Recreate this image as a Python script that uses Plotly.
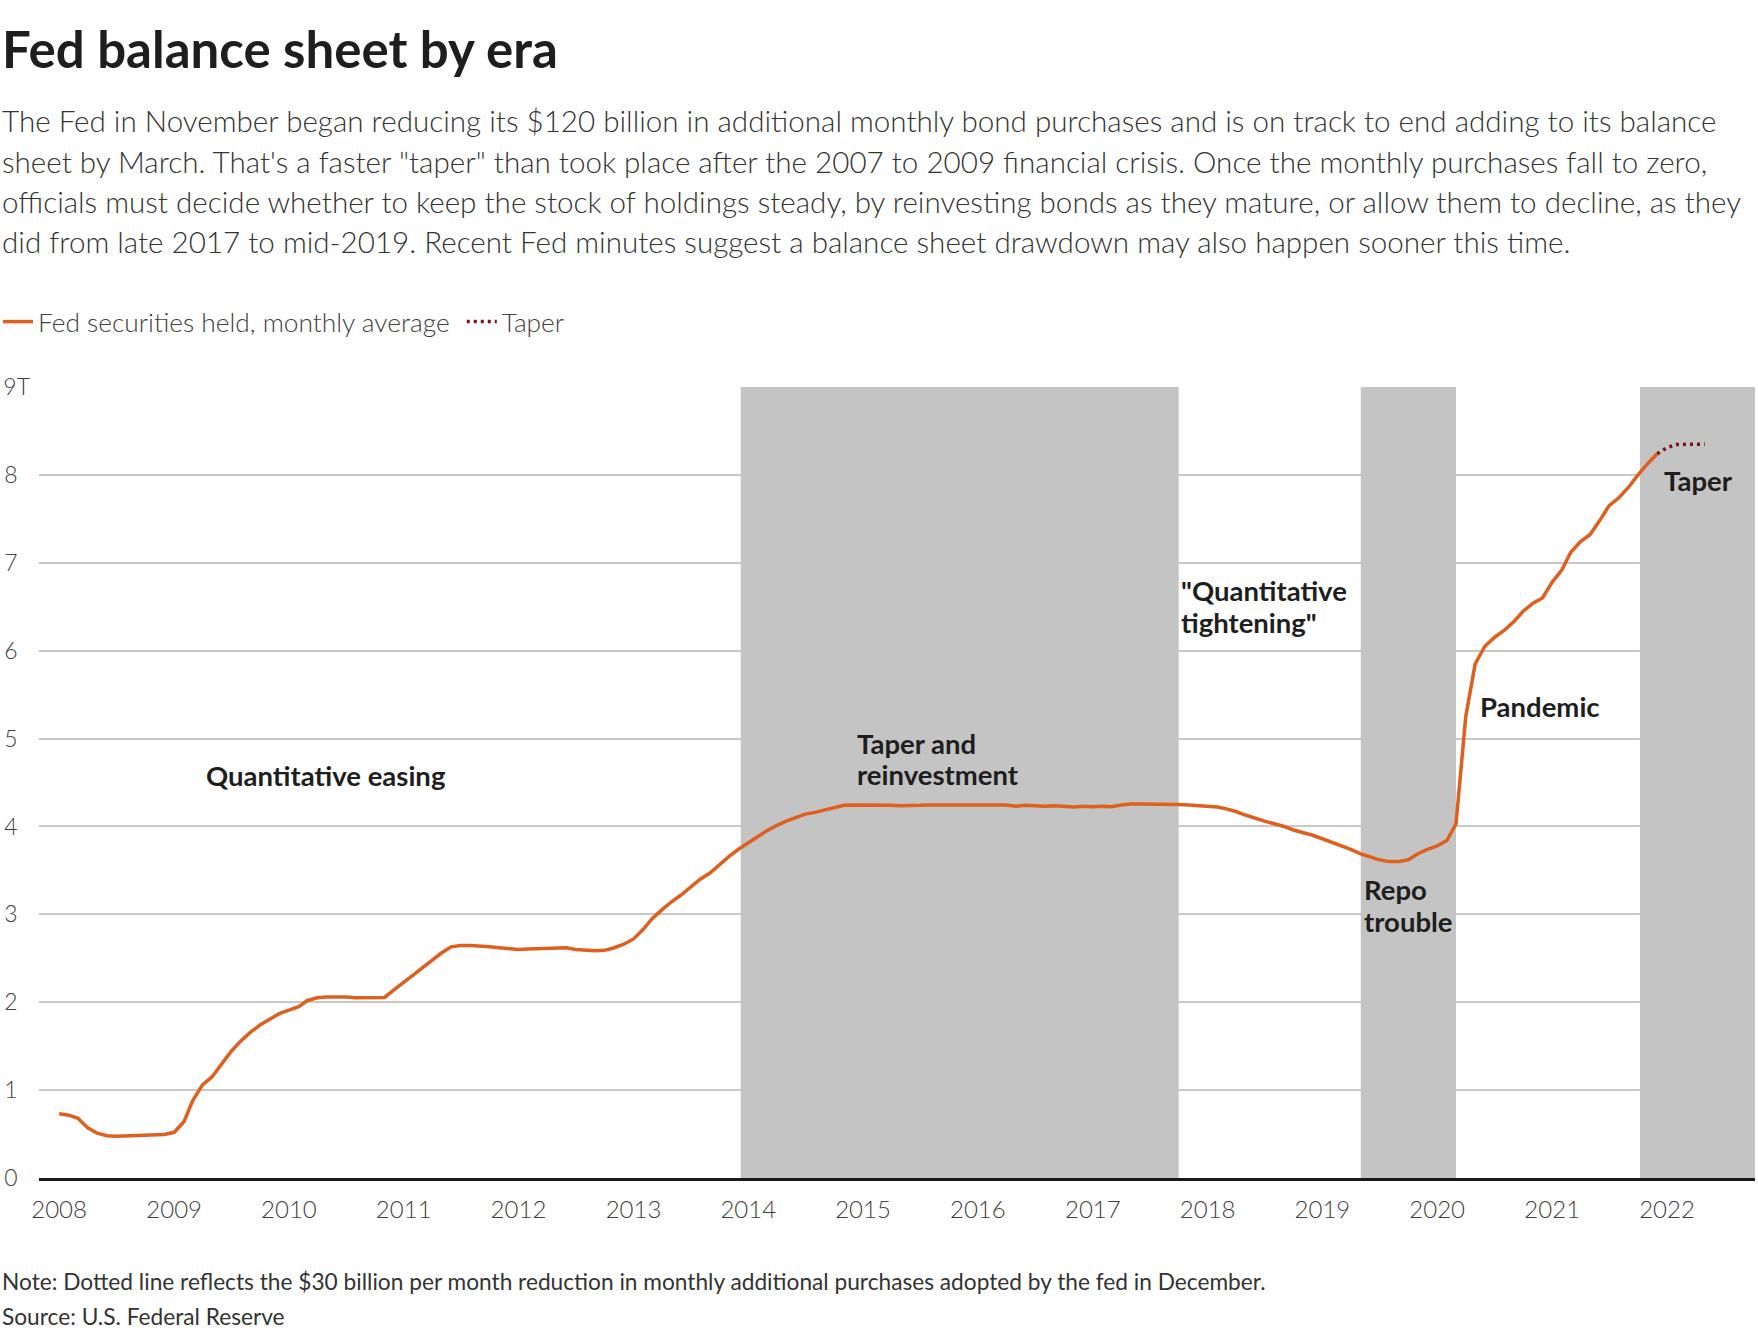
import plotly.graph_objects as go
import pandas as pd

# ---------------- data ----------------
start_month = "2008-01-01"
held_2008 = [0.73, 0.715, 0.68, 0.57, 0.51, 0.48, 0.475, 0.478, 0.48, 0.485, 0.49, 0.495]
held_2009 = [0.52, 0.64, 0.88, 1.06, 1.15, 1.30, 1.44, 1.56, 1.66, 1.74, 1.81, 1.87]
held_2010 = [1.91, 1.95, 2.02, 2.05, 2.06, 2.065, 2.06, 2.05, 2.05, 2.05, 2.055, 2.14]
held_2011 = [2.22, 2.31, 2.39, 2.48, 2.56, 2.63, 2.645, 2.645, 2.64, 2.63, 2.62, 2.615]
held_2012 = [2.60, 2.605, 2.61, 2.61, 2.615, 2.62, 2.60, 2.59, 2.585, 2.59, 2.62, 2.66]
held_2013 = [2.72, 2.83, 2.95, 3.05, 3.14, 3.22, 3.31, 3.40, 3.47, 3.57, 3.66, 3.74]
held_2014 = [3.81, 3.89, 3.95, 4.01, 4.06, 4.10, 4.14, 4.16, 4.19, 4.22, 4.24, 4.245]
held_2015 = [4.245, 4.245, 4.245, 4.24, 4.235, 4.235, 4.24, 4.245, 4.245, 4.25, 4.25, 4.245]
held_2016 = [4.245, 4.25, 4.25, 4.245, 4.23, 4.24, 4.235, 4.23, 4.235, 4.23, 4.22, 4.23]
held_2017 = [4.225, 4.23, 4.225, 4.245, 4.255, 4.255, 4.255, 4.255, 4.255, 4.25, 4.245, 4.24]
held_2018 = [4.235, 4.22, 4.20, 4.17, 4.13, 4.09, 4.06, 4.03, 4.00, 3.96, 3.93, 3.90]
held_2019 = [3.86, 3.82, 3.78, 3.74, 3.69, 3.65, 3.62, 3.60, 3.60, 3.62, 3.69, 3.74]
held_2020 = [3.78, 3.84, 4.03, 5.25, 5.85, 6.05, 6.15, 6.23, 6.33, 6.45, 6.54, 6.60]
held_2021 = [6.78, 6.92, 7.12, 7.24, 7.32, 7.48, 7.65, 7.74, 7.86, 8.00, 8.13, 8.24]

taper_start = "2021-12-01"
taper_values = [8.24, 8.31, 8.345, 8.35, 8.35, 8.35]

eras = [
    ("2013-12-08", "2017-10-01"),
    ("2019-05-03", "2020-03-01"),
    ("2021-10-07", "2022-10-08"),
]
era_labels = [
    (["Quantitative easing"], "2009-04-05", 4.585),
    (["Taper and", "reinvestment"], "2014-12-05", 4.77),
    (["\"Quantitative", "tightening\""], "2017-10-01", 6.50),
    (["Repo", "trouble"], "2019-05-08", 3.10),
    (["Pandemic"], "2020-05-10", 5.37),
    (["Taper"], "2021-12-16", 7.94),
]

y_ticks = [0, 1, 2, 3, 4, 5, 6, 7, 8, 9]
y_ticktext = ["0", "1", "2", "3", "4", "5", "6", "7", "8", "9T"]
x_ticks = [f"{y}-01-01" for y in range(2008, 2023)]
x_ticktext = [str(y) for y in range(2008, 2023)]

title = "Fed balance sheet by era"
subtitle_lines = [
    "The Fed in November began reducing its $120 billion in additional monthly bond purchases and is on track to end adding to its balance",
    "sheet by March. That's a faster \"taper\" than took place after the 2007 to 2009 financial crisis. Once the monthly purchases fall to zero,",
    "officials must decide whether to keep the stock of holdings steady, by reinvesting bonds as they mature, or allow them to decline, as they",
    "did from late 2017 to mid-2019. Recent Fed minutes suggest a balance sheet drawdown may also happen sooner this time.",
]
note = "Note: Dotted line reflects the $30 billion per month reduction in monthly additional purchases adopted by the fed in December."
source = "Source: U.S. Federal Reserve"

# ---------------- build ----------------
held = (held_2008 + held_2009 + held_2010 + held_2011 + held_2012 + held_2013 + held_2014
        + held_2015 + held_2016 + held_2017 + held_2018 + held_2019 + held_2020 + held_2021)
held_dates = pd.date_range(start_month, periods=len(held), freq="MS")
taper_dates = pd.date_range(taper_start, periods=len(taper_values), freq="MS")

W, H = 1758, 1336
L, R, T, B = 39, 3, 387, 158
PW, PH = W - L - R, H - T - B

def px_x(px):
    return (px - L) / PW

def px_y(py):
    return (H - B - py) / PH

FONT = "Lato"
ORANGE = "#df5f1e"
DOT = "#7d1020"
BAND = "#c4c4c4"
NB = "\u00a0"
LABEL_SIZE = 27.5
LABEL_LINE = 31.5

fig = go.Figure()
fig.add_trace(go.Scatter(
    x=held_dates, y=held, mode="lines",
    name="Fed securities held, monthly average" + NB,
    line=dict(color=ORANGE, width=3.5),
))
fig.add_trace(go.Scatter(
    x=taper_dates, y=taper_values, mode="lines",
    name="Taper",
    line=dict(color=DOT, width=3.5, dash="3px,4px"),
))

for x0, x1 in eras:
    fig.add_shape(type="rect", xref="x", yref="y", x0=x0, x1=x1, y0=0, y1=9,
                  fillcolor=BAND, line_width=0, layer="between")

for lines, xd, yv in era_labels:
    n = len(lines)
    for i, text in enumerate(lines):
        shift = ((n - 1) / 2 - i) * LABEL_LINE
        fig.add_annotation(x=xd, y=yv, xref="x", yref="y", text=f"<b>{text}</b>",
                           showarrow=False, xanchor="left", yanchor="middle", align="left",
                           yshift=shift,
                           font=dict(family=FONT, size=LABEL_SIZE, color="#1e1e1e"))

fig.add_annotation(x=px_x(0), y=px_y(49), xref="paper", yref="paper",
                   text=f"<b>{title}</b>", showarrow=False, xanchor="left", yanchor="middle",
                   font=dict(family=FONT, size=51, color="#1e1e1e"))
for i, line in enumerate(subtitle_lines):
    fig.add_annotation(x=px_x(0), y=px_y(121 + 40.1 * i), xref="paper", yref="paper",
                       text=line, showarrow=False, xanchor="left", yanchor="middle",
                       font=dict(family=FONT, size=29.6, color="#333333", weight=300))
fig.add_annotation(x=px_x(0), y=px_y(1281), xref="paper", yref="paper",
                   text=note, showarrow=False, xanchor="left", yanchor="middle",
                   font=dict(family=FONT, size=22.7, color="#333333"))
fig.add_annotation(x=px_x(0), y=px_y(1316), xref="paper", yref="paper",
                   text=source, showarrow=False, xanchor="left", yanchor="middle",
                   font=dict(family=FONT, size=22.7, color="#333333"))

fig.update_layout(
    width=W, height=H,
    margin=dict(l=L, r=R, t=T, b=B, pad=0, autoexpand=False),
    paper_bgcolor="white", plot_bgcolor="white",
    showlegend=True,
    legend=dict(orientation="h", x=px_x(-2), y=px_y(322), xanchor="left", yanchor="middle",
                xref="paper", yref="paper",
                font=dict(family=FONT, size=26.3, color="#404040", weight=300),
                bgcolor="rgba(0,0,0,0)", borderwidth=0, itemclick=False),
    font=dict(family=FONT, color="#404040"),
)
fig.update_xaxes(
    type="date", range=["2007-10-29", "2022-10-08"],
    tickvals=x_ticks, ticktext=x_ticktext,
    tickfont=dict(family=FONT, size=24, color="#404040", weight=300),
    showgrid=False, zeroline=False, automargin=False,
    showline=True, linecolor="#1a1a1a", linewidth=2.5,
    ticks="", ticklabelstandoff=8,
)
fig.update_yaxes(
    range=[0, 9], tickvals=y_ticks,
    ticktext=[t if len(t) > 1 else t + NB * 2 for t in y_ticktext],
    tickfont=dict(family=FONT, size=23, color="#404040", weight=300),
    showgrid=True, gridcolor="#c8c8c8", gridwidth=1.5, automargin=False,
    zeroline=False, showline=False, ticks="", ticklabelstandoff=8,
)

fig.write_html("out.html", config={"displayModeBar": False},
               post_script="document.body.style.margin='0px';")
